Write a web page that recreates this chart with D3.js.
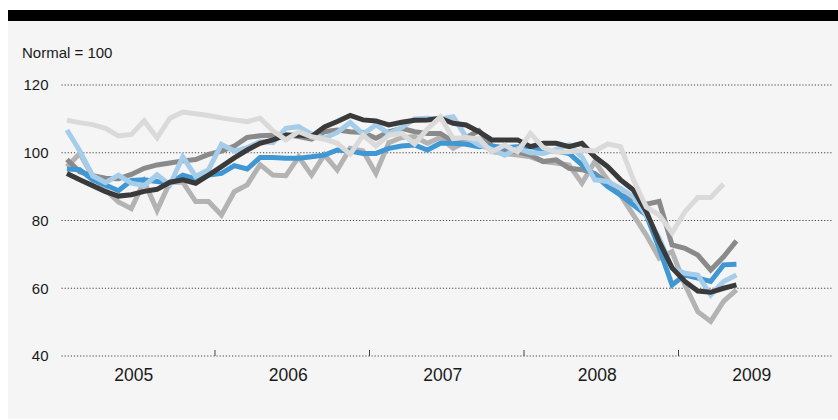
<!DOCTYPE html>
<html>
<head>
<meta charset="utf-8">
<script src="https://cdn.jsdelivr.net/npm/d3@7"></script>
<style>
  body { margin: 0; background: #ffffff; }
  svg { display: block; font-family: "Liberation Sans", Arial, sans-serif; }
</style>
</head>
<body>
<div id="chart"></div>
<script>
// monthly index values, Jan 2005 .. May 2009 (normal = 100)
const startYear = 2005
const years = [2005, 2006, 2007, 2008, 2009]
const yTicks = [40, 60, 80, 100, 120]

const seriesDark = [93.9, 92.0, 90.3, 88.5, 87.2, 87.6, 88.6, 89.2, 91.3, 92.0, 91.0, 93.4,
  95.9, 98.5, 100.8, 102.8, 103.8, 105.2, 105.2, 104.8, 107.6, 109.2, 111.0, 109.7,
  109.4, 108.2, 109.0, 109.6, 109.7, 110.2, 108.7, 108.2, 106.2, 103.8, 103.8, 103.8,
  101.8, 102.8, 102.8, 101.8, 102.8, 98.8, 95.9, 92.0, 89.0, 82.6, 73.8, 66.0,
  62.0, 59.2, 58.8, 60.0, 61.0]
const seriesMid = [98.0, 94.4, 93.2, 92.5, 92.3, 93.6, 95.4, 96.4, 97.0, 97.6, 98.0, 99.5,
  100.5, 102.0, 104.5, 105.0, 105.2, 105.4, 104.8, 104.0, 106.2, 106.7, 106.2, 106.0,
  104.3, 106.2, 107.2, 106.2, 105.7, 105.7, 103.3, 104.5, 106.5, 102.0, 100.5, 100.3,
  99.3, 97.4, 97.9, 95.4, 95.0, 93.9, 91.0, 87.5, 86.5, 84.8, 85.6, 72.8,
  71.8, 69.8, 65.4, 69.3, 74.0]
const seriesSilver = [95.9, 99.8, 93.0, 89.0, 85.5, 83.5, 91.5, 83.0, 91.3, 91.3, 85.6, 85.6,
  81.6, 88.5, 90.5, 96.5, 93.4, 93.2, 98.8, 93.4, 99.4, 94.9, 101.3, 100.5,
  93.9, 103.0, 104.5, 104.7, 102.8, 104.5, 101.3, 103.3, 104.0, 100.3, 99.8, 99.3,
  98.8, 97.4, 97.0, 96.4, 91.0, 97.4, 92.0, 87.5, 81.6, 75.7, 68.9, 70.8,
  61.0, 53.1, 50.2, 56.1, 59.5]
const seriesPale = [109.6, 108.9, 108.3, 107.2, 105.0, 105.4, 109.4, 104.4, 110.2, 112.0, 111.5, 111.0,
  110.3, 109.7, 109.2, 110.2, 106.5, 103.8, 106.2, 104.7, 104.0, 102.8, 99.6, 105.2,
  102.0, 105.2, 105.7, 102.6, 107.0, 110.6, 104.2, 104.5, 104.0, 100.3, 102.2, 100.3,
  105.7, 101.5, 100.2, 100.3, 100.8, 100.5, 102.6, 101.8, 92.0, 84.0, 81.6, 76.4,
  82.6, 86.8, 86.8, 90.8]
const seriesBlue = [95.2, 95.0, 92.0, 90.5, 88.8, 91.8, 92.0, 91.5, 91.0, 93.4, 92.3, 93.4,
  93.9, 96.2, 95.2, 98.6, 98.6, 98.4, 98.4, 98.8, 99.3, 100.8, 100.5, 99.8,
  99.8, 101.3, 102.0, 102.3, 100.8, 102.8, 102.8, 102.5, 101.8, 102.0, 101.5, 101.8,
  101.8, 100.8, 100.5, 99.8, 96.4, 93.4, 90.0, 87.5, 84.6, 81.6, 71.8, 61.0,
  63.9, 63.0, 62.0, 66.9, 67.1]
const seriesLightBlue = [106.7, 100.5, 93.2, 91.2, 93.4, 91.0, 90.3, 93.5, 90.5, 98.8, 93.0, 95.0,
  102.5, 100.5, 101.5, 103.3, 103.0, 107.2, 107.7, 105.5, 104.3, 106.0, 108.9, 105.5,
  108.2, 105.7, 107.4, 110.0, 110.2, 110.0, 110.6, 104.7, 102.3, 101.0, 99.3, 101.3,
  100.0, 99.8, 101.0, 102.3, 98.8, 92.0, 91.5, 89.5, 87.0, 81.6, 74.8, 65.9,
  64.4, 63.9, 58.0, 62.0, 63.9]

// draw order: back to front
const LINES = [
  {values: seriesSilver, color: "#b3b3b3"},
  {values: seriesMid, color: "#8a8a8a"},
  {values: seriesBlue, color: "#3f97d4"},
  {values: seriesLightBlue, color: "#a5cdea"},
  {values: seriesDark, color: "#3a3a3a"},
  {values: seriesPale, color: "#dadada"},
]

const W = 838, H = 420

const svg = d3.select("#chart").append("svg")
  .attr("width", W)
  .attr("height", H)

// panel + black band
svg.append("rect").attr("x", 8).attr("y", 21).attr("width", W - 8).attr("height", 398).attr("fill", "#f5f5f5")
svg.append("rect").attr("x", 8).attr("y", 10).attr("width", W - 8).attr("height", 11).attr("fill", "#000")

// months since Jan 2005
var x = d3.scaleLinear().domain([0, 60]).range([60.5, 833])
var y = d3.scaleLinear().domain([40, 120]).range([356, 85])

svg.append("text")
  .attr("x", 22).attr("y", 58)
  .attr("font-size", 15).attr("fill", "#1a1a1a")
  .text("Normal = 100")

// dotted grid
svg.append("g").selectAll("line").data(yTicks).join("line")
  .attr("x1", 61.5).attr("x2", 832)
  .attr("y1", d => y(d)).attr("y2", d => y(d))
  .attr("stroke", "#444").attr("stroke-width", 1.2)
  .attr("stroke-dasharray", "1.2,1.9")

svg.append("g").selectAll("text").data(yTicks).join("text")
  .attr("x", 48.5).attr("y", d => y(d))
  .attr("dy", "0.36em")
  .attr("text-anchor", "end")
  .attr("font-size", 15).attr("fill", "#1a1a1a")
  .text(d => d)

// year boundary ticks
svg.append("g").selectAll("line").data(years.slice(1)).join("line")
  .attr("x1", d => x((d - startYear) * 12)).attr("x2", d => x((d - startYear) * 12))
  .attr("y1", y(40)).attr("y2", y(40) - 6)
  .attr("stroke", "#444").attr("stroke-width", 1)

svg.append("g").selectAll("text").data(years).join("text")
  .attr("x", d => x((d - startYear) * 12 + 6) - 4)
  .attr("y", 381)
  .attr("text-anchor", "middle")
  .attr("font-size", 17.5).attr("fill", "#1a1a1a")
  .text(d => d)

var line = d3.line()
  .x((d, i) => x(i + 0.5))
  .y(d => y(d))

for (let c of LINES) {
  svg.append("path")
    .datum(c.values)
    .attr("fill", "none")
    .attr("stroke", c.color)
    .attr("stroke-width", 5)
    .attr("stroke-linejoin", "miter")
    .attr("d", line)
}
</script>
</body>
</html>
